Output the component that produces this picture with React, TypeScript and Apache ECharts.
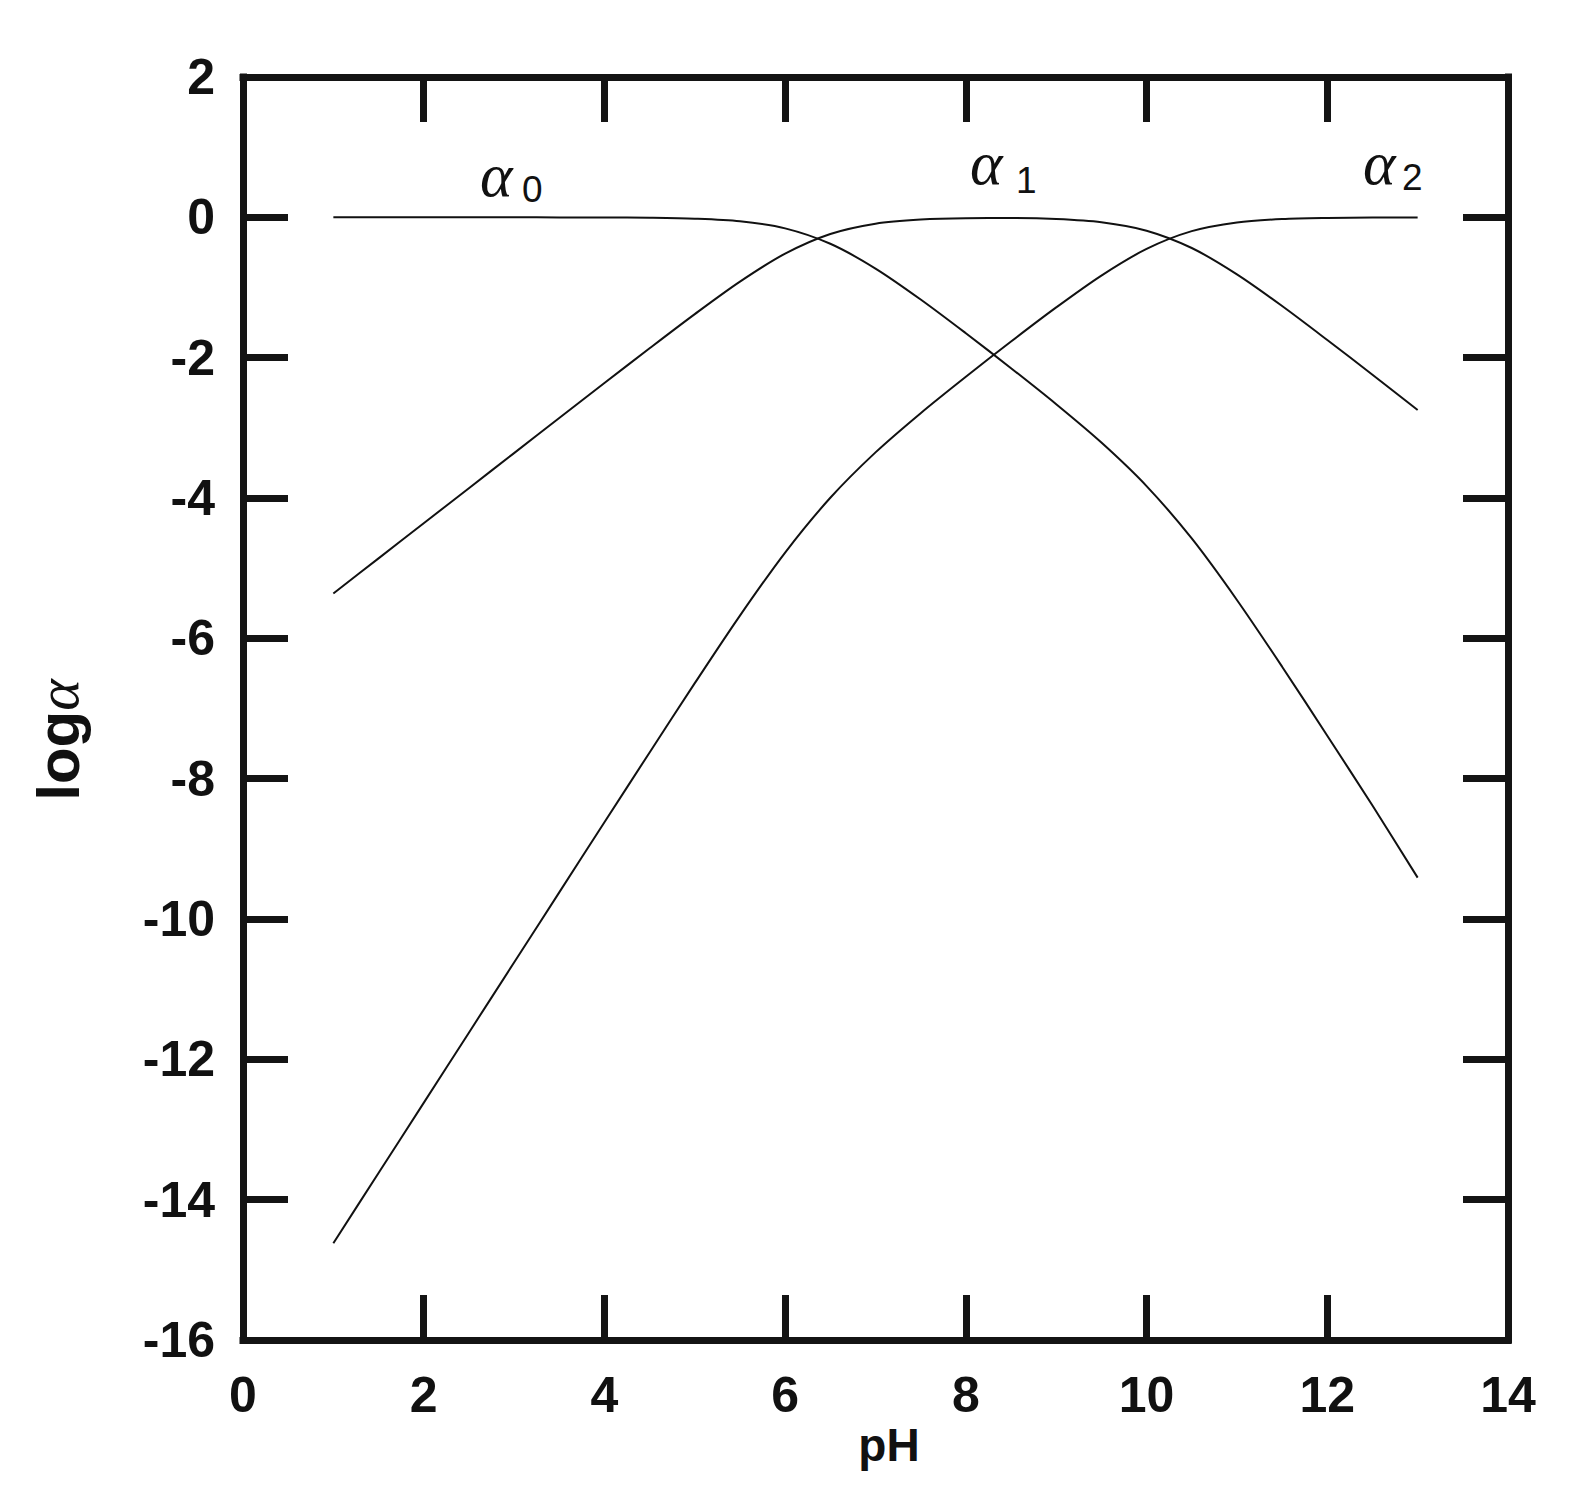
import React, { useEffect, useRef } from "react";
import * as echarts from "echarts";

const pH = [1, 1.5, 2, 2.5, 3, 3.5, 4, 4.5, 5, 5.5, 6, 6.5, 7, 7.5, 8, 8.5, 9, 9.5, 10, 10.5, 11, 11.5, 12, 12.5, 13];
const alpha0 = [0, 0, 0, 0, 0, -0.001, -0.002, -0.006, -0.019, -0.056, -0.157, -0.377, -0.73, -1.171, -1.652, -2.15, -2.664, -3.21, -3.83, -4.577, -5.453, -6.404, -7.388, -8.383, -9.41];
const alpha1 = [-5.36, -4.86, -4.36, -3.86, -3.36, -2.86, -2.362, -1.866, -1.379, -0.916, -0.517, -0.237, -0.09, -0.031, -0.012, -0.01, -0.024, -0.07, -0.19, -0.437, -0.813, -1.264, -1.748, -2.243, -2.745];
const alpha2 = [-14.62, -13.62, -12.62, -11.62, -10.62, -9.62, -8.622, -7.626, -6.639, -5.676, -4.777, -3.997, -3.35, -2.791, -2.272, -1.77, -1.284, -0.83, -0.45, -0.197, -0.073, -0.024, -0.008, -0.003, -0.001];

const seriesNames = ["α0", "α1", "α2"];
const xTitle = "pH";

const FRAME = "#141414";
const SANS = "'Liberation Sans', Arial, sans-serif";
const SERIF = "'Liberation Serif', 'Times New Roman', serif";

export default function App() {
  const ref = useRef<HTMLDivElement>(null);
  useEffect(() => {
    if (!ref.current) return;
    const chart = echarts.init(ref.current, null, { renderer: "svg" });
    const axisLine = { show: true, onZero: false, lineStyle: { color: FRAME, width: 7, cap: "square" } };
    const axisTick = { show: true, inside: true, length: 45, lineStyle: { color: FRAME, width: 7 } };
    const label = { fontFamily: SANS, fontWeight: "bold", fontSize: 50, color: "#111" };
    const mk = (arr: number[], name: string) => ({
      type: "line",
      name,
      data: pH.map((x, i) => [x, arr[i]]),
      showSymbol: false,
      smooth: 0.3,
      lineStyle: { color: "#111", width: 2 },
    });
    chart.setOption({
      animation: false,
      backgroundColor: "#fff",
      grid: { left: 243, right: 61, top: 77, bottom: 159 },
      xAxis: [
        {
          type: "value", min: 0, max: 14, interval: 2, position: "bottom",
          axisLine, axisTick, splitLine: { show: false },
          axisLabel: { ...label, margin: 30 },
        },
        {
          type: "value", min: 0, max: 14, interval: 2, position: "top",
          axisLine, axisTick, splitLine: { show: false }, axisLabel: { show: false },
        },
      ],
      yAxis: [
        {
          type: "value", min: -16, max: 2, interval: 2, position: "left",
          axisLine, axisTick, splitLine: { show: false },
          axisLabel: { ...label, margin: 28 },
        },
        {
          type: "value", min: -16, max: 2, interval: 2, position: "right",
          axisLine, axisTick, splitLine: { show: false }, axisLabel: { show: false },
        },
      ],
      series: [mk(alpha0, seriesNames[0]), mk(alpha1, seriesNames[1]), mk(alpha2, seriesNames[2])],
      graphic: [
        {
          type: "text", x: 889, y: 1445,
          style: { text: xTitle, fontFamily: SANS, fontWeight: "bold", fontSize: 46, fill: "#111", align: "center", verticalAlign: "middle" },
        },
        {
          type: "text", x: 58, y: 740, rotation: Math.PI / 2,
          style: {
            text: "{a|log}{b|α}", align: "center", verticalAlign: "middle",
            rich: {
              a: { fontFamily: SANS, fontWeight: "bold", fontSize: 60, fill: "#111" },
              b: { fontFamily: SERIF, fontStyle: "italic", fontSize: 60, fill: "#111" },
            },
          },
        },
        { type: "text", x: 480, y: 175, style: { text: "α", fontFamily: SERIF, fontStyle: "italic", fontSize: 62, fill: "#111", align: "left", verticalAlign: "middle" } },
        { type: "text", x: 522, y: 189, style: { text: "0", fontFamily: SANS, fontSize: 37, fill: "#111", align: "left", verticalAlign: "middle" } },
        { type: "text", x: 970, y: 163, style: { text: "α", fontFamily: SERIF, fontStyle: "italic", fontSize: 62, fill: "#111", align: "left", verticalAlign: "middle" } },
        { type: "text", x: 1016, y: 180, style: { text: "1", fontFamily: SANS, fontSize: 37, fill: "#111", align: "left", verticalAlign: "middle" } },
        { type: "text", x: 1363, y: 163, style: { text: "α", fontFamily: SERIF, fontStyle: "italic", fontSize: 62, fill: "#111", align: "left", verticalAlign: "middle" } },
        { type: "text", x: 1402, y: 177, style: { text: "2", fontFamily: SANS, fontSize: 37, fill: "#111", align: "left", verticalAlign: "middle" } },
      ],
    });
    return () => chart.dispose();
  }, []);
  return <div ref={ref} style={{ width: 1569, height: 1499, position: "absolute", left: 0, top: 0 }} />;
}
